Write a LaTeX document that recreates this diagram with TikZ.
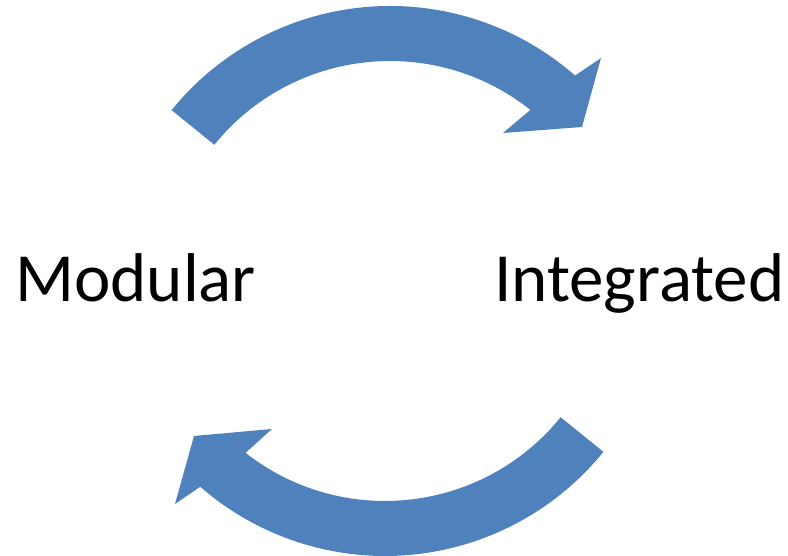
\documentclass[tikz,border=0pt]{standalone}
\usepackage{fontspec}
\setmainfont{Carlito}
\usetikzlibrary{calc}
\definecolor{arrowblue}{HTML}{4F81BD}
\begin{document}
\begin{tikzpicture}[x=1pt,y=1pt,
  blockarrow/.style={fill=arrowblue,draw=none},
  label/.style={inner sep=0pt,anchor=base west,font=\fontsize{69}{82}\selectfont}]
\useasboundingbox (0,0) rectangle (788,556);
% centres of the two arcs
\coordinate (c1) at (390,269);
\coordinate (c2) at (385,281);
% top arrow (Modular -> Integrated)
\path[blockarrow] ($(c1)+(141:281)$) arc[start angle=141,end angle=48.8,radius=281]
  -- (601,498) -- (582,429) -- (503,423)
  -- ($(c1)+(51.6:226)$) arc[start angle=51.6,end angle=141,radius=226] -- cycle;
% bottom arrow (Integrated -> Modular)
\path[blockarrow] ($(c2)+(-39:281)$) arc[start angle=-39,end angle=-131.1,radius=281]
  -- (175,52) -- (194,120) -- (272,127)
  -- ($(c2)+(-128.1:226)$) arc[start angle=-128.1,end angle=-39,radius=226] -- cycle;
\node[label] (modular) at (15,254) {Modular};
\node[label] (integrated) at (494,254) {Integrated};
\end{tikzpicture}
\end{document}
